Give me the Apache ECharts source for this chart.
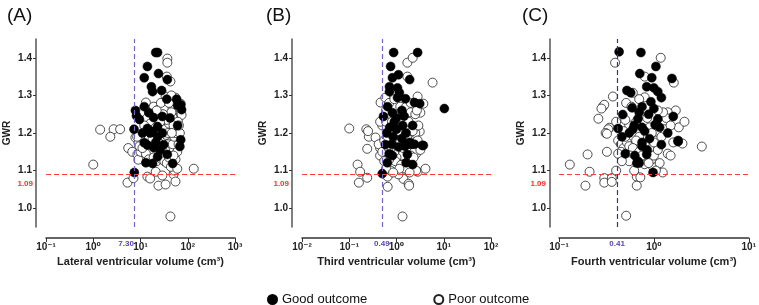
<!DOCTYPE html>
<html>
<head>
<meta charset="UTF-8">
<script src="https://cdn.jsdelivr.net/npm/echarts@6/dist/echarts.min.js"></script>
<style>
  html, body { margin: 0; padding: 0; background: #fff; }
  #main { width: 759px; height: 305px; }
</style>
</head>
<body>
<div id="main"></div>
<script>
// ---- data (x = volume in cm3, y = GWR) ----
var aGood = [[21,1.414],[23,1.414],[14,1.377],[24,1.358],[12,1.347],[37,1.342],[17,1.323],[18,1.31],[28,1.313],[36,1.29],[58,1.29],[71,1.275],[74,1.262],[7.8,1.26],[12,1.27],[15,1.254],[8.2,1.246],[19,1.241],[29,1.244],[61,1.273],[9.5,1.236],[23,1.217],[61,1.22],[7.3,1.21],[14,1.212],[18,1.204],[23,1.19],[29,1.2],[12,1.174],[14,1.168],[19,1.161],[71,1.182],[68,1.164],[31,1.169],[37,1.143],[13,1.121],[18,1.119],[23,1.137],[48,1.119],[7.4,1.095],[16,1.2],[26,1.155],[11,1.2],[21,1.175],[42,1.24]];
var aPoor = [[37,1.398],[37,1.387],[36,1.35],[43,1.337],[34,1.297],[55,1.294],[71,1.278],[71,1.254],[74,1.248],[13,1.281],[19,1.27],[24,1.262],[31,1.265],[10,1.255],[48,1.241],[31,1.222],[43,1.19],[45,1.182],[50,1.175],[7.8,1.188],[9.1,1.174],[1.4,1.209],[2.7,1.21],[3.7,1.21],[2.3,1.19],[1.0,1.116],[5.3,1.068],[7.1,1.08],[5.5,1.16],[6.7,1.15],[8.6,1.143],[14,1.084],[16,1.079],[21,1.097],[24,1.06],[34,1.063],[29,1.087],[50,1.09],[55,1.071],[52,1.1],[134,1.105],[43,0.978],[9,1.129],
  [11,1.19],[13,1.2],[15,1.185],[17,1.17],[20,1.18],[22,1.165],[25,1.205],[27,1.19],[30,1.18],[33,1.21],[35,1.195],[38,1.17],[40,1.16],[42,1.15],[45,1.16],[48,1.17],[52,1.19],[55,1.2],[58,1.21],[62,1.23],[40,1.225],[45,1.255],[50,1.22],[36,1.235],[26,1.23],[20,1.25],[16,1.225],[12,1.22],[10,1.15],[13,1.145],[15,1.13],[19,1.135],[22,1.125],[25,1.14],[28,1.13],[32,1.125],[36,1.12],[40,1.135],[44,1.11],[55,1.13],[60,1.15],[64,1.17],[68,1.2],[65,1.22],[33,1.155],[28,1.16],[24,1.175],[30,1.25],[27,1.28],[22,1.26],[40,1.28],[45,1.3],[8.5,1.19],[9.5,1.165],[11,1.16],[38,1.2],[46,1.2],[50,1.14],[18,1.185],[21,1.215],[60,1.105]];

var bGood = [[0.87,1.414],[2.8,1.414],[0.75,1.377],[1.1,1.355],[0.82,1.347],[1.9,1.342],[0.71,1.323],[1.05,1.32],[0.71,1.31],[1.15,1.307],[1.05,1.294],[1.55,1.291],[2.4,1.281],[3.1,1.278],[10.3,1.265],[0.65,1.27],[0.82,1.254],[1.3,1.26],[0.53,1.244],[1.0,1.24],[1.45,1.245],[0.9,1.23],[1.35,1.22],[2.2,1.22],[0.72,1.215],[1.0,1.21],[1.6,1.2],[0.62,1.2],[0.85,1.19],[1.3,1.185],[1.9,1.175],[2.1,1.17],[3.5,1.167],[0.58,1.169],[0.8,1.17],[1.1,1.163],[1.5,1.165],[1.8,1.17],[2.4,1.17],[3.7,1.167],[0.7,1.145],[0.82,1.14],[1.7,1.143],[0.64,1.121],[1.6,1.121],[2.2,1.116],[0.5,1.092]];
var bPoor = [[0.10,1.212],[0.23,1.21],[0.26,1.19],[0.36,1.188],[0.25,1.205],[0.46,1.281],[0.58,1.294],[1.7,1.387],[2.2,1.40],[1.7,1.35],[5.8,1.334],[2.8,1.297],[3.7,1.278],[3.2,1.254],[3.1,1.204],[0.15,1.116],[0.17,1.097],[0.16,1.068],[0.24,1.081],[0.24,1.158],[0.45,1.16],[0.42,1.17],[0.65,1.084],[0.65,1.057],[1.34,0.978],[1.4,1.097],[1.4,1.078],[1.8,1.065],[1.85,1.06],[2.8,1.097],[2.6,1.1],[4.1,1.105],[2.6,1.145],
  [0.45,1.14],[0.5,1.15],[0.55,1.18],[0.5,1.22],[0.45,1.23],[0.6,1.26],[0.7,1.28],[0.9,1.29],[1.2,1.27],[1.6,1.27],[2.0,1.255],[2.5,1.25],[2.7,1.26],[2.0,1.28],[0.6,1.23],[0.8,1.205],[1.2,1.2],[1.5,1.21],[2.0,1.195],[2.5,1.2],[2.8,1.18],[2.4,1.15],[2.0,1.14],[1.6,1.13],[1.3,1.14],[1.0,1.135],[0.9,1.15],[0.75,1.16],[1.2,1.175],[1.5,1.19],[0.95,1.125],[1.25,1.115],[1.55,1.105],[0.7,1.13],[0.55,1.125],[1.1,1.09],[0.75,1.1],[0.65,1.19],[1.8,1.23],[1.1,1.25],[0.95,1.245],[1.7,1.185],[2.2,1.205],[2.9,1.22],[3.2,1.155],[1.4,1.16],[0.8,1.23],[0.6,1.105],[1.05,1.205],[2.3,1.135],[1.9,1.095],[1.15,1.105],[0.85,1.095],[0.68,1.16]];

var cGood = [[0.43,1.416],[0.73,1.414],[0.71,1.358],[1.05,1.377],[0.95,1.347],[1.55,1.345],[0.52,1.313],[0.84,1.323],[1.0,1.32],[1.1,1.31],[1.2,1.294],[0.93,1.283],[0.57,1.307],[0.59,1.267],[1.0,1.265],[0.75,1.27],[0.7,1.255],[0.88,1.25],[0.47,1.249],[0.68,1.238],[1.6,1.244],[1.1,1.237],[0.42,1.212],[0.62,1.22],[0.6,1.21],[0.75,1.215],[0.8,1.205],[1.03,1.222],[1.4,1.2],[1.8,1.18],[1.2,1.169],[0.46,1.19],[0.75,1.175],[0.9,1.185],[0.5,1.145],[0.63,1.14],[0.84,1.143],[0.66,1.12],[0.7,1.12],[0.68,1.125],[0.98,1.095],[1.8,1.177],[0.75,1.165],[0.85,1.155],[1.15,1.215],[0.55,1.2]];
var cPoor = [[0.39,1.387],[1.18,1.4],[0.8,1.35],[1.62,1.334],[0.37,1.297],[0.29,1.27],[0.30,1.275],[0.28,1.265],[0.26,1.238],[0.34,1.214],[0.33,1.21],[0.31,1.2],[0.32,1.198],[0.51,1.28],[0.6,1.307],[0.8,1.295],[1.7,1.26],[1.4,1.255],[1.83,1.215],[2.0,1.172],[3.2,1.164],[0.13,1.116],[0.2,1.143],[0.21,1.097],[0.19,1.06],[0.3,1.08],[0.3,1.068],[0.36,1.08],[0.36,1.07],[0.32,1.15],[0.4,1.1],[0.51,0.98],[0.66,1.084],[0.66,1.06],[0.72,1.082],[0.98,1.11],[1.24,1.095],[0.8,1.117],[1.4,1.145],[1.5,1.14],[1.6,1.175],
  [0.42,1.18],[0.45,1.17],[0.48,1.16],[0.52,1.175],[0.55,1.165],[0.5,1.19],[0.55,1.22],[0.5,1.235],[0.65,1.23],[0.7,1.19],[0.65,1.18],[0.6,1.16],[0.7,1.15],[0.8,1.14],[0.9,1.16],[0.95,1.13],[1.0,1.14],[1.1,1.155],[1.05,1.18],[1.2,1.19],[1.3,1.21],[1.35,1.24],[1.25,1.255],[1.1,1.26],[0.9,1.215],[0.85,1.24],[0.95,1.2],[1.0,1.175],[0.75,1.14],[0.62,1.13],[0.56,1.14],[0.45,1.15],[0.42,1.145],[0.58,1.27],[0.7,1.29],[0.8,1.17],[0.88,1.12],[1.15,1.12],[0.55,1.125],[0.46,1.125],[1.5,1.22],[2.1,1.23],[0.4,1.23],[0.48,1.205],[0.62,1.1],[1.05,1.1]];

var panelNames = ['(A)', '(B)', '(C)'];
var xNames = ['Lateral ventricular volume (cm\u00b3)', 'Third ventricular volume (cm\u00b3)', 'Fourth ventricular volume (cm\u00b3)'];
var xMin = [0.1, 0.01, 0.1];
var xMax = [1000, 100, 10];
var volCut = [7.30, 0.49, 0.41];
var gwrCut = 1.09;
var yTicks = [1.0, 1.1, 1.2, 1.3, 1.4];

// ---- layout ----
var grids = [
  { left: 46, top: 39, width: 189, height: 188 },
  { left: 302, top: 39, width: 189, height: 188 },
  { left: 559, top: 39, width: 190, height: 188 }
];
var yOffsets = [10, 10, 9];
var titleLeft = [2, 261, 517];
var vColors = ['#7b62c9', '#7b62c9', '#3a2c95'];
var cutLabelShift = [-8, 0, 0];

var FONT = 'Liberation Sans, Arial, DejaVu Sans, sans-serif';
var SUP = { '-': '\u207b', '0': '\u2070', '1': '\u00b9', '2': '\u00b2', '3': '\u00b3' };
function powLabel(v) {
  var p = String(Math.round(Math.log10(v)));
  return '10' + p.split('').map(function (c) { return SUP[c]; }).join('');
}

var good = [aGood, bGood, cGood];
var poor = [aPoor, bPoor, cPoor];

var xAxes = [], yAxes = [], series = [], titles = [];
for (var i = 0; i < 3; i++) {
  titles.push({ text: panelNames[i], left: titleLeft[i], top: 1,
    textStyle: { fontSize: 19, fontWeight: 'normal', color: '#111', fontFamily: FONT } });
  xAxes.push({
    gridIndex: i, type: 'log', logBase: 10, min: xMin[i], max: xMax[i], offset: 11,
    name: xNames[i], nameLocation: 'middle', nameGap: 17,
    nameTextStyle: { fontSize: 11, fontWeight: 'bold', color: '#222', fontFamily: FONT },
    axisLine: { lineStyle: { color: '#333', width: 1.5 } },
    axisTick: { length: 4, lineStyle: { color: '#333' } },
    minorTick: { show: false },
    splitLine: { show: false },
    axisLabel: { formatter: powLabel, fontSize: 10, fontWeight: 'bold', color: '#222', margin: 4, fontFamily: FONT }
  });
  yAxes.push({
    gridIndex: i, type: 'value', min: 0.95, max: 1.45, offset: yOffsets[i],
    name: 'GWR', nameLocation: 'middle', nameGap: 24, nameRotate: 90,
    nameTextStyle: { fontSize: 10, fontWeight: 'bold', color: '#222', fontFamily: FONT },
    axisLine: { show: true, lineStyle: { color: '#555', width: 1.5 } },
    axisTick: { show: true, length: 3, customValues: yTicks, lineStyle: { color: '#333' } },
    splitLine: { show: false },
    axisLabel: { customValues: yTicks, formatter: function (v) { return v.toFixed(1); },
      fontSize: 10, fontWeight: 'bold', color: '#222', margin: 4, fontFamily: FONT }
  });
  series.push({
    name: 'Poor outcome', type: 'scatter', xAxisIndex: i, yAxisIndex: i,
    symbol: 'circle', symbolSize: 9, data: poor[i],
    itemStyle: { color: '#fff', borderColor: '#222', borderWidth: 0.8, opacity: 1 },
    markLine: {
      silent: true, symbol: 'none', animation: false,
      data: [
        { yAxis: gwrCut, lineStyle: { color: '#ff3b3b', type: [5, 3], width: 1.2 },
          label: { show: true, position: 'start', formatter: gwrCut.toFixed(2), color: '#ff2a2a',
            fontSize: 8, fontWeight: 'bold', distance: 13, offset: [0, 9], fontFamily: FONT } },
        { xAxis: volCut[i], lineStyle: { color: vColors[i], type: [5, 3], width: 1.2 },
          label: { show: true, position: 'start', formatter: volCut[i].toFixed(2), color: '#5a44b0',
            fontSize: 8, fontWeight: 'bold', distance: 13, offset: [cutLabelShift[i], 0], fontFamily: FONT } }
      ]
    },
    z: 2
  });
  series.push({
    name: 'Good outcome', type: 'scatter', xAxisIndex: i, yAxisIndex: i,
    symbol: 'circle', symbolSize: 9, data: good[i],
    itemStyle: { color: '#000', borderColor: '#000', borderWidth: 0.5, opacity: 1 },
    z: 3
  });
}

var chart = echarts.init(document.getElementById('main'), null, { renderer: 'canvas' });
chart.setOption({
  animation: false,
  backgroundColor: '#fff',
  title: titles,
  grid: grids,
  xAxis: xAxes,
  yAxis: yAxes,
  legend: {
    data: ['Good outcome', 'Poor outcome'],
    left: 262, top: 288, itemGap: 66, itemWidth: 9, itemHeight: 9,
    textStyle: { fontSize: 13, color: '#111', fontFamily: FONT }
  },
  series: series
});
</script>
</body>
</html>
